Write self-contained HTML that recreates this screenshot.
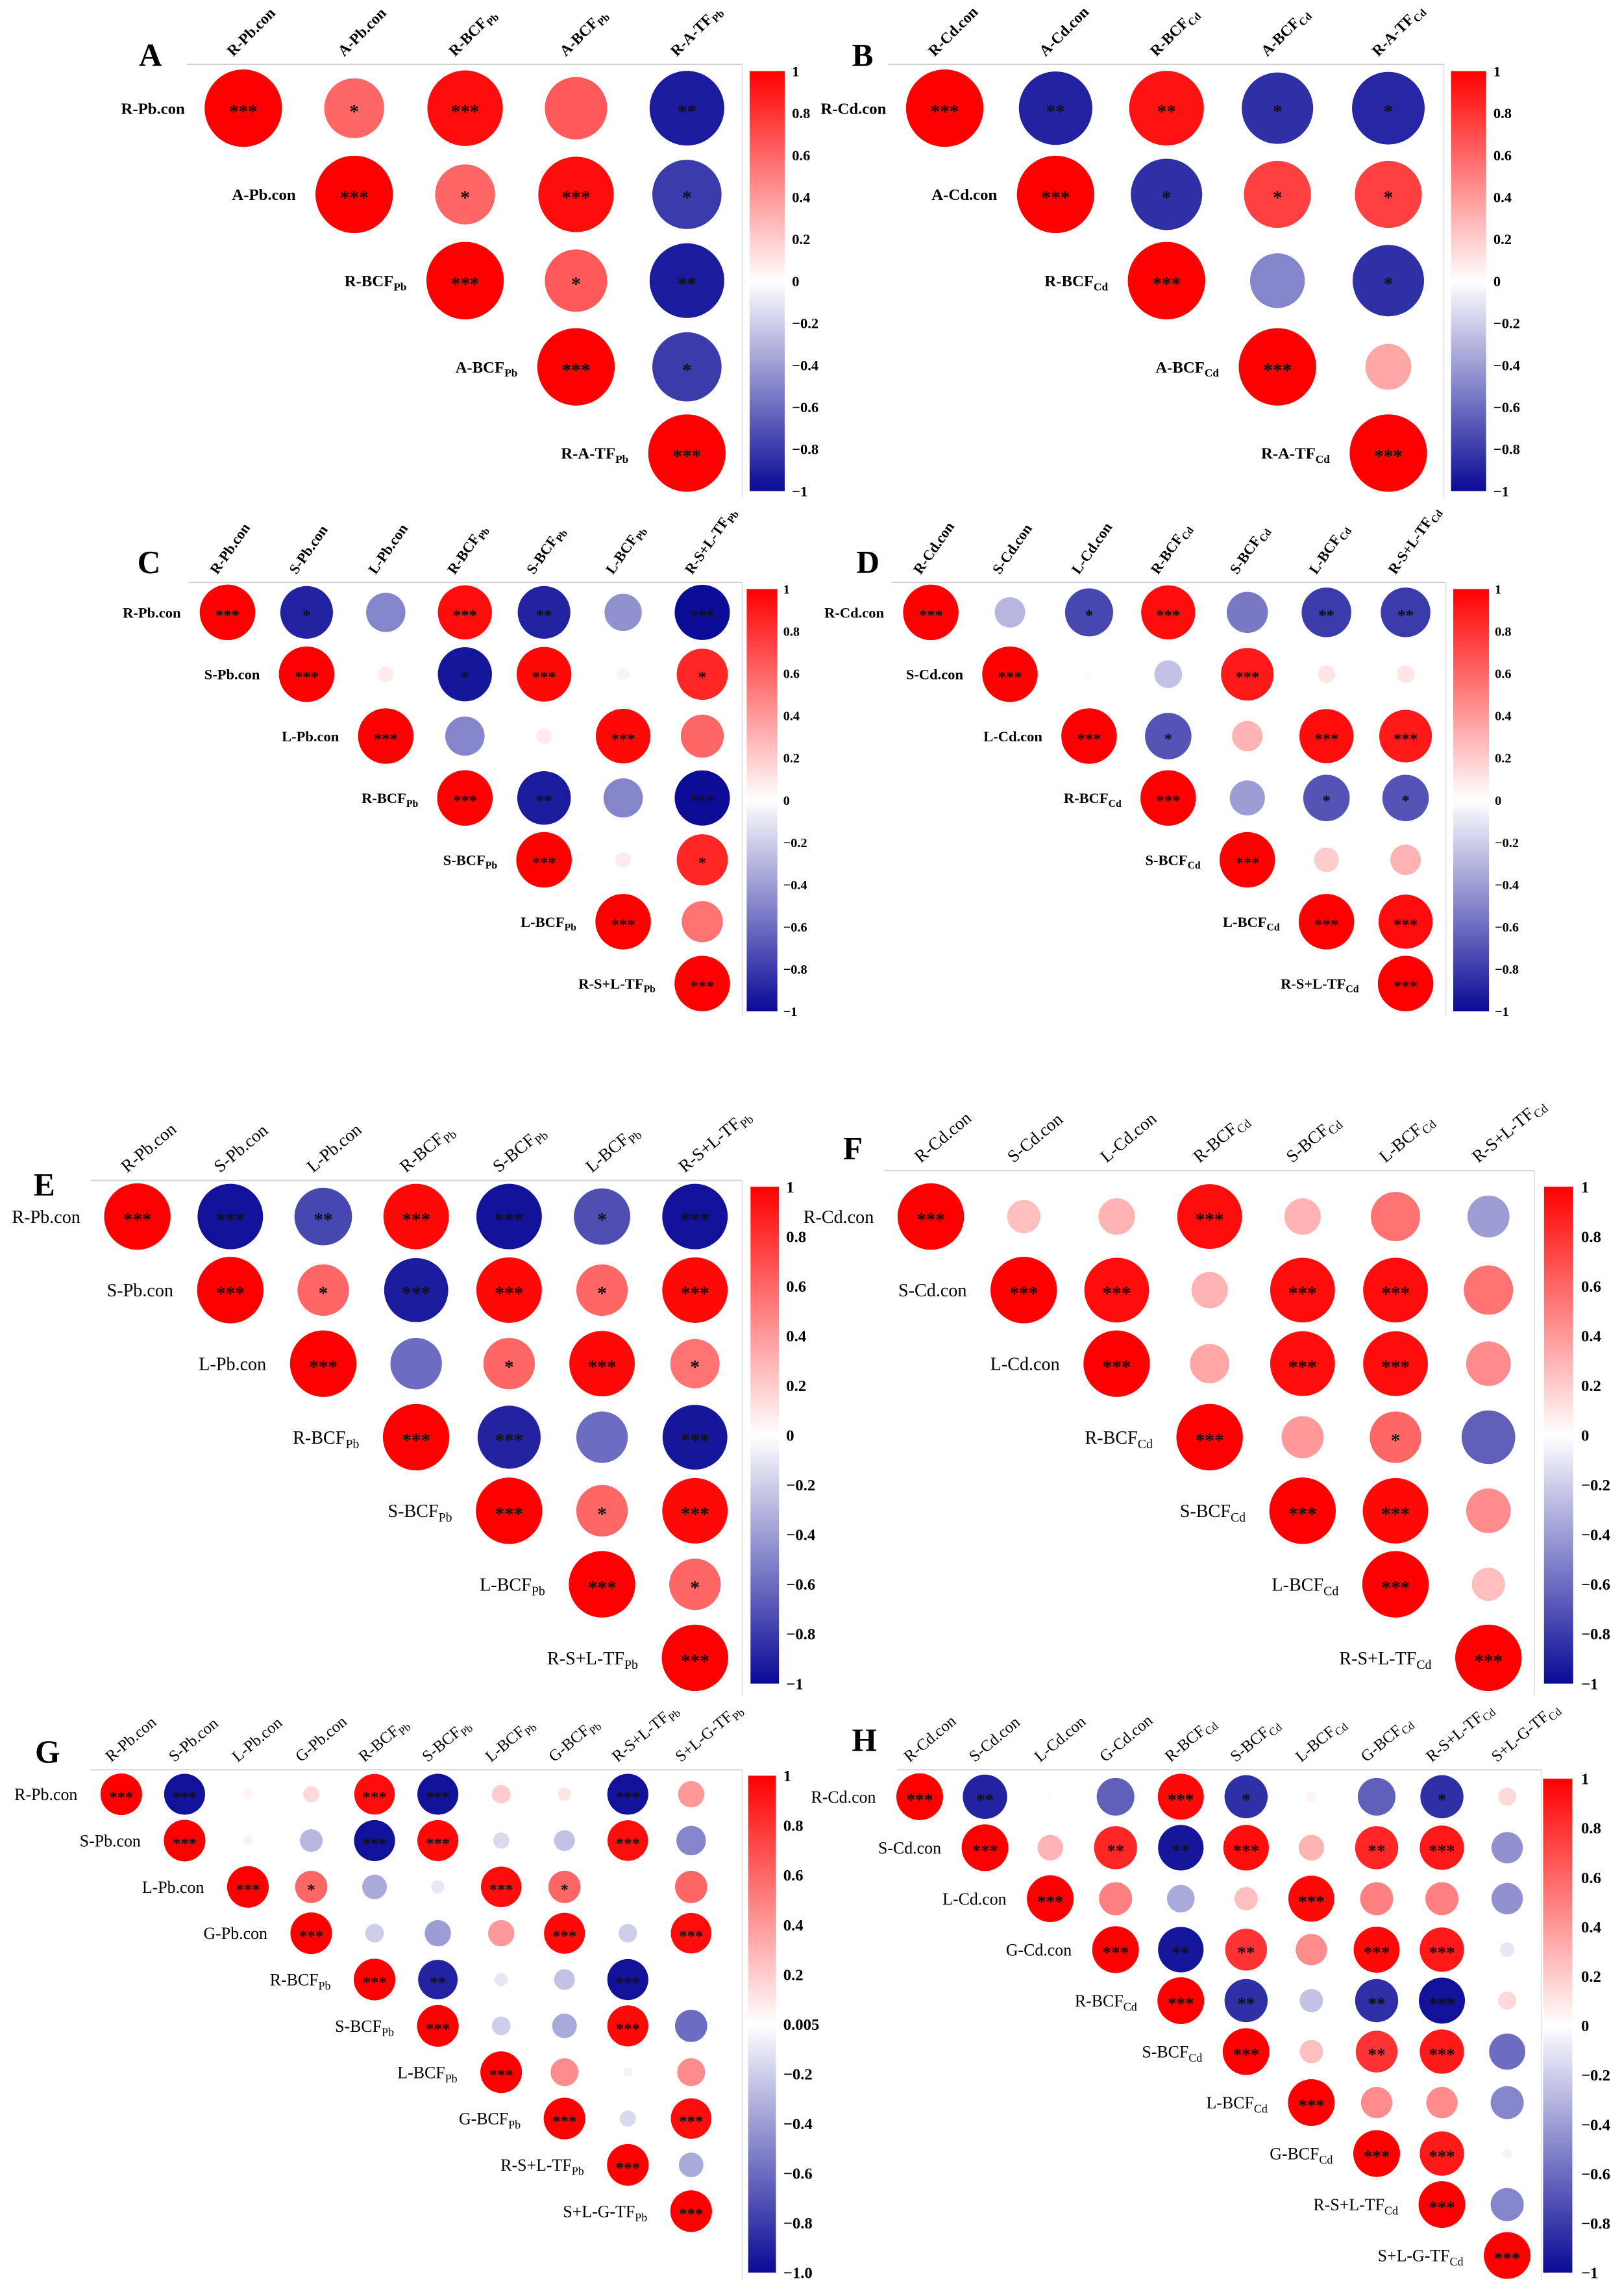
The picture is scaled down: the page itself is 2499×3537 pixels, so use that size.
<!DOCTYPE html>
<html><head><meta charset="utf-8">
<style>
html,body{margin:0;padding:0;background:#fff;}
svg{display:block;}
</style></head>
<body>
<svg id="fig" xmlns="http://www.w3.org/2000/svg" width="2499" height="3537" viewBox="0 0 1110 1571"></svg>
<script>
// ---------- data ----------
const varsA = ["R-Pb.con","A-Pb.con","R-BCF_Pb","A-BCF_Pb","R-A-TF_Pb"];
const valuesA = [[1,0.6,0.95,0.65,-0.93],[1,0.6,0.95,-0.8],[1,0.65,-0.93],[1,-0.8],[1]];
const sigA = [["***","*","***","","**"],["***","*","***","*"],["***","*","**"],["***","*"],["***"]];

const varsB = ["R-Cd.con","A-Cd.con","R-BCF_Cd","A-BCF_Cd","R-A-TF_Cd"];
const valuesB = [[1,-0.9,0.93,-0.85,-0.88],[1,-0.85,0.75,0.75],[1,-0.5,-0.85],[1,0.35],[1]];
const sigB = [["***","**","**","*","*"],["***","*","*","*"],["***","","*"],["***",""],["***"]];

const varsC = ["R-Pb.con","S-Pb.con","L-Pb.con","R-BCF_Pb","S-BCF_Pb","L-BCF_Pb","R-S+L-TF_Pb"];
const valuesC = [[1,-0.9,-0.5,0.95,-0.9,-0.45,-0.99],[1,0.08,-0.95,0.97,0.05,0.85],[1,-0.5,0.08,0.97,0.6],[1,-0.93,-0.5,-0.99],[1,0.08,0.85],[1,0.55],[1]];
const sigC = [["***","*","","***","**","","***"],["***","","*","***","","*"],["***","","","***",""],["***","**","","***"],["***","","*"],["***",""],["***"]];

const varsD = ["R-Cd.con","S-Cd.con","L-Cd.con","R-BCF_Cd","S-BCF_Cd","L-BCF_Cd","R-S+L-TF_Cd"];
const valuesD = [[1,-0.3,-0.75,0.95,-0.55,-0.8,-0.8],[1,0.02,-0.25,0.9,0.1,0.1],[1,-0.7,0.3,0.95,0.9],[1,-0.4,-0.7,-0.7],[1,0.2,0.3],[1,0.95],[1]];
const sigD = [["***","","*","***","","**","**"],["***","","","***","",""],["***","*","","***","***"],["***","","*","*"],["***","",""],["***","***"],["***"]];

const varsE = ["R-Pb.con","S-Pb.con","L-Pb.con","R-BCF_Pb","S-BCF_Pb","L-BCF_Pb","R-S+L-TF_Pb"];
const valuesE = [[1,-0.97,-0.75,0.97,-0.97,-0.72,-0.97],[1,0.6,-0.93,0.97,0.6,0.97],[1,-0.6,0.6,0.97,0.55],[1,-0.9,-0.6,-0.95],[1,0.6,0.97],[1,0.6],[1]];
const sigE = [["***","***","**","***","***","*","***"],["***","*","***","***","*","***"],["***","","*","***","*"],["***","***","","***"],["***","*","***"],["***","*"],["***"]];

const varsF = ["R-Cd.con","S-Cd.con","L-Cd.con","R-BCF_Cd","S-BCF_Cd","L-BCF_Cd","R-S+L-TF_Cd"];
const valuesF = [[1,0.25,0.3,0.95,0.3,0.55,-0.4],[1,0.95,0.3,0.95,0.95,0.55],[1,0.35,0.95,0.95,0.45],[1,0.4,0.6,-0.65],[1,0.97,0.45],[1,0.25],[1]];
const sigF = [["***","","","***","","",""],["***","***","","***","***",""],["***","","***","***",""],["***","","*",""],["***","***",""],["***",""],["***"]];

const varsG = ["R-Pb.con","S-Pb.con","L-Pb.con","G-Pb.con","R-BCF_Pb","S-BCF_Pb","L-BCF_Pb","G-BCF_Pb","R-S+L-TF_Pb","S+L-G-TF_Pb"];
const valuesG = [[1,-0.97,0.05,0.15,0.95,-0.97,0.2,0.1,-0.97,0.4],[1,-0.05,-0.3,-0.97,0.97,-0.15,-0.25,0.95,-0.5],[1,0.6,-0.35,-0.1,0.95,0.6,0,0.6],[1,-0.2,-0.4,0.4,0.97,-0.2,0.95],[1,-0.9,-0.1,-0.25,-0.97,0],[1,-0.2,-0.35,0.97,-0.6],[1,0.45,-0.05,0.45],[1,-0.15,0.95],[1,-0.35],[1]];
const sigG = [["***","***","","","***","***","","","***",""],["***","","","***","***","","","***",""],["***","*","","","***","*","",""],["***","","","","***","","***"],["***","**","","","***",""],["***","","","***",""],["***","","",""],["***","","***"],["***",""],["***"]];

const varsH = ["R-Cd.con","S-Cd.con","L-Cd.con","G-Cd.con","R-BCF_Cd","S-BCF_Cd","L-BCF_Cd","G-BCF_Cd","R-S+L-TF_Cd","S+L-G-TF_Cd"];
const valuesH = [[1,-0.9,0.02,-0.65,0.97,-0.85,0.05,-0.65,-0.85,0.15],[1,0.3,0.85,-0.95,0.95,0.3,0.85,0.9,-0.45],[1,0.5,-0.35,0.25,0.97,0.5,0.5,-0.45],[1,-0.95,0.8,0.45,0.97,0.9,-0.1],[1,-0.85,-0.25,-0.85,-0.97,0.15],[1,0.25,0.8,0.9,-0.6],[1,0.45,0.45,-0.5],[1,0.9,-0.05],[1,-0.5],[1]];
const sigH = [["***","**","","","***","*","","","*",""],["***","","**","**","***","","**","***",""],["***","","","","***","","",""],["***","**","**","","***","***",""],["***","**","","**","***",""],["***","","**","***",""],["***","",""],["***","***",""],["***",""],["***"]];

const ticksStd = ["1","0.8","0.6","0.4","0.2","0","\u22120.2","\u22120.4","\u22120.6","\u22120.8","\u22121"];
const ticksG = ["1","0.8","0.6","0.4","0.2","0.005","\u22120.2","\u22120.4","\u22120.6","\u22120.8","\u22121.0"];

// ---------- layout (not data) ----------
const panels = [
 {id:"a",L:"A",vars:varsA,vals:valuesA,sig:sigA,ticks:ticksStd,x0:166.5,dx:75.9,y0:74,dy:59,D:53,cb:[513,48.6,24,287.4],tx:542,tf:10,lx:95,ly:45,ty:44,t1:128,t2:508,vb:340,bold:true,rf:11,cf:10.5,rot:-45,ro:40,sf:13},
 {id:"b",L:"B",vars:varsB,vals:valuesB,sig:sigB,ticks:ticksStd,x0:646.5,dx:75.9,y0:74,dy:59,D:53,cb:[993,48.6,24,287.4],tx:1022,tf:10,lx:583,ly:45,ty:44,t1:608,t2:988,vb:340,bold:true,rf:11,cf:10.5,rot:-45,ro:40,sf:13},
 {id:"c",L:"C",vars:varsC,vals:valuesC,sig:sigC,ticks:ticksStd,x0:155.7,dx:54.15,y0:419,dy:42.33,D:38,cb:[511,403,21,289],tx:536,tf:9,lx:94,ly:392,ty:398.5,t1:129,t2:508,vb:695,bold:true,rf:10,cf:10,rot:-55,ro:32,sf:11},
 {id:"d",L:"D",vars:varsD,vals:valuesD,sig:sigD,ticks:ticksStd,x0:637,dx:54.15,y0:419,dy:42.33,D:38,cb:[994.5,403,24.5,289],tx:1023,tf:9,lx:586,ly:392,ty:398.5,t1:610,t2:989.5,vb:695,bold:true,rf:10,cf:10,rot:-55,ro:32,sf:11},
 {id:"e",L:"E",vars:varsE,vals:valuesE,sig:sigE,ticks:ticksStd,x0:94,dx:63.6,y0:832.4,dy:50.33,D:45.5,cb:[513.6,812,19.5,340],tx:538,tf:11,lx:23,ly:818,ty:807.7,t1:62,t2:508,vb:1160,bold:false,rf:12.5,cf:12,rot:-40,ro:39,sf:13},
 {id:"f",L:"F",vars:varsF,vals:valuesF,sig:sigF,ticks:ticksStd,x0:637,dx:63.6,y0:832.4,dy:50.33,D:45.5,cb:[1056.6,812,20,340],tx:1082,tf:11,lx:577,ly:793,ty:801,t1:605,t2:1050,vb:1160,bold:false,rf:12.5,cf:12,rot:-40,ro:39,sf:13},
 {id:"g",L:"G",vars:varsG,vals:valuesG,sig:sigG,ticks:ticksG,x0:83,dx:43.33,y0:1227.7,dy:31.7,D:28.5,cb:[512,1215,19,340],tx:536,tf:11,lx:24,ly:1206,ty:1211,t1:62,t2:508,vb:1560,bold:false,rf:11.5,cf:11,rot:-40,ro:30,sf:11},
 {id:"h",L:"H",vars:varsH,vals:valuesH,sig:sigH,ticks:ticksStd,x0:629.4,dx:44.67,y0:1229.4,dy:34.88,D:32,cb:[1056,1217,20,338],tx:1082,tf:11,lx:583,ly:1198,ty:1211,t1:614,t2:1055,vb:1560,bold:false,rf:11.5,cf:11,rot:-40,ro:30,sf:12}
];

const NS = "http://www.w3.org/2000/svg";
const svg = document.getElementById("fig");
const FONT = '"Liberation Serif", "DejaVu Serif", serif';

function colorOf(v){
  const t = Math.min(1, Math.abs(v));
  if (v >= 0) {
    const c = Math.round(255*(1-t));
    return `rgb(255,${c},${c})`;
  }
  const c = Math.round(255 - (255-10)*t);
  const b = Math.round(255 - (255-150)*t);
  return `rgb(${c},${c},${b})`;
}
function mk(tag, attrs, parent){
  const e = document.createElementNS(NS, tag);
  for (const k in attrs) e.setAttribute(k, attrs[k]);
  (parent||svg).appendChild(e);
  return e;
}
function labelText(el, name, fs){
  const parts = name.split("_");
  const t1 = document.createElementNS(NS,"tspan");
  t1.textContent = parts[0];
  el.appendChild(t1);
  if (parts[1]) {
    const t2 = document.createElementNS(NS,"tspan");
    t2.setAttribute("font-size", (fs*0.7).toFixed(1));
    t2.setAttribute("dy", (fs*0.25).toFixed(1));
    t2.textContent = parts[1];
    el.appendChild(t2);
  }
}

panels.forEach(p => {
  const xAt = i => p.x0 + i*p.dx;
  const yAt = i => p.y0 + i*p.dy;
  const g = mk("g", {});
  
  
  const fw = p.bold ? "bold" : "normal";

  const L = mk("text", {x:p.lx, y:p.ly, "font-family":FONT, "font-size":22, "font-weight":"bold", fill:"#000"}, g);
  L.textContent = p.L;
  
  

  const tl = mk("line", {x1:p.t1, y1:p.ty, x2:p.t2, y2:p.ty, stroke:"#cfcfcf", "stroke-width":0.8}, g);
  
  
  const vl = mk("line", {x1:p.t2, y1:p.ty, x2:p.t2, y2:p.vb, stroke:"#e2e2e2", "stroke-width":0.8}, g);
  
  

  p.vars.forEach((name, j) => {
    const x = xAt(j) - 7, y = p.ty - 5;
    const t = mk("text", {x:x, y:y, "font-family":FONT, "font-size":p.cf, "font-weight":fw, fill:"#000",
      transform:`rotate(${p.rot} ${x} ${y})`}, g);
    labelText(t, name, p.cf);
    
    
  });

  p.vals.forEach((row, i) => {
    const rl = mk("text", {x:xAt(i) - p.ro, y:yAt(i) + p.rf*0.35, "text-anchor":"end", "font-family":FONT, "font-size":p.rf, "font-weight":fw, fill:"#000"}, g);
    labelText(rl, p.vars[i], p.rf);
    
    
    row.forEach((v, k) => {
      const j = i + k;
      if (Math.abs(v) < 0.01) return;
      const r = p.D/2 * Math.sqrt(Math.abs(v));
      const c = mk("circle", {cx:xAt(j), cy:yAt(i), r:r.toFixed(2), fill:colorOf(v)}, g);
      
      
      const s = p.sig[i][k];
      if (s) {
        const st = mk("text", {x:xAt(j), y:yAt(i) + p.sf*0.5, "text-anchor":"middle", "font-family":FONT, "font-size":p.sf, "font-weight":"bold", fill:"#111"}, g);
        st.textContent = s;
        
        
      }
    });
  });

  const gid = "grad-" + p.id;
  const defs = mk("defs", {}, g);
  const lg = mk("linearGradient", {id:gid, x1:0, y1:0, x2:0, y2:1}, defs);
  mk("stop", {offset:"0", "stop-color":colorOf(1)}, lg);
  mk("stop", {offset:"0.5", "stop-color":"#ffffff"}, lg);
  mk("stop", {offset:"1", "stop-color":colorOf(-1)}, lg);
  const [cx, cy, cw, ch] = p.cb;
  const cbr = mk("rect", {x:cx, y:cy, width:cw, height:ch, fill:`url(#${gid})`}, g);
  
  
  p.ticks.forEach((lab, k) => {
    const y = cy + ch * k / (p.ticks.length - 1);
    const tt = mk("text", {x:p.tx, y:y + p.tf*0.35, "font-family":FONT, "font-size":p.tf, "font-weight":"bold", fill:"#000"}, g);
    tt.textContent = lab;
    
    
  });
});
</script>
</body></html>
